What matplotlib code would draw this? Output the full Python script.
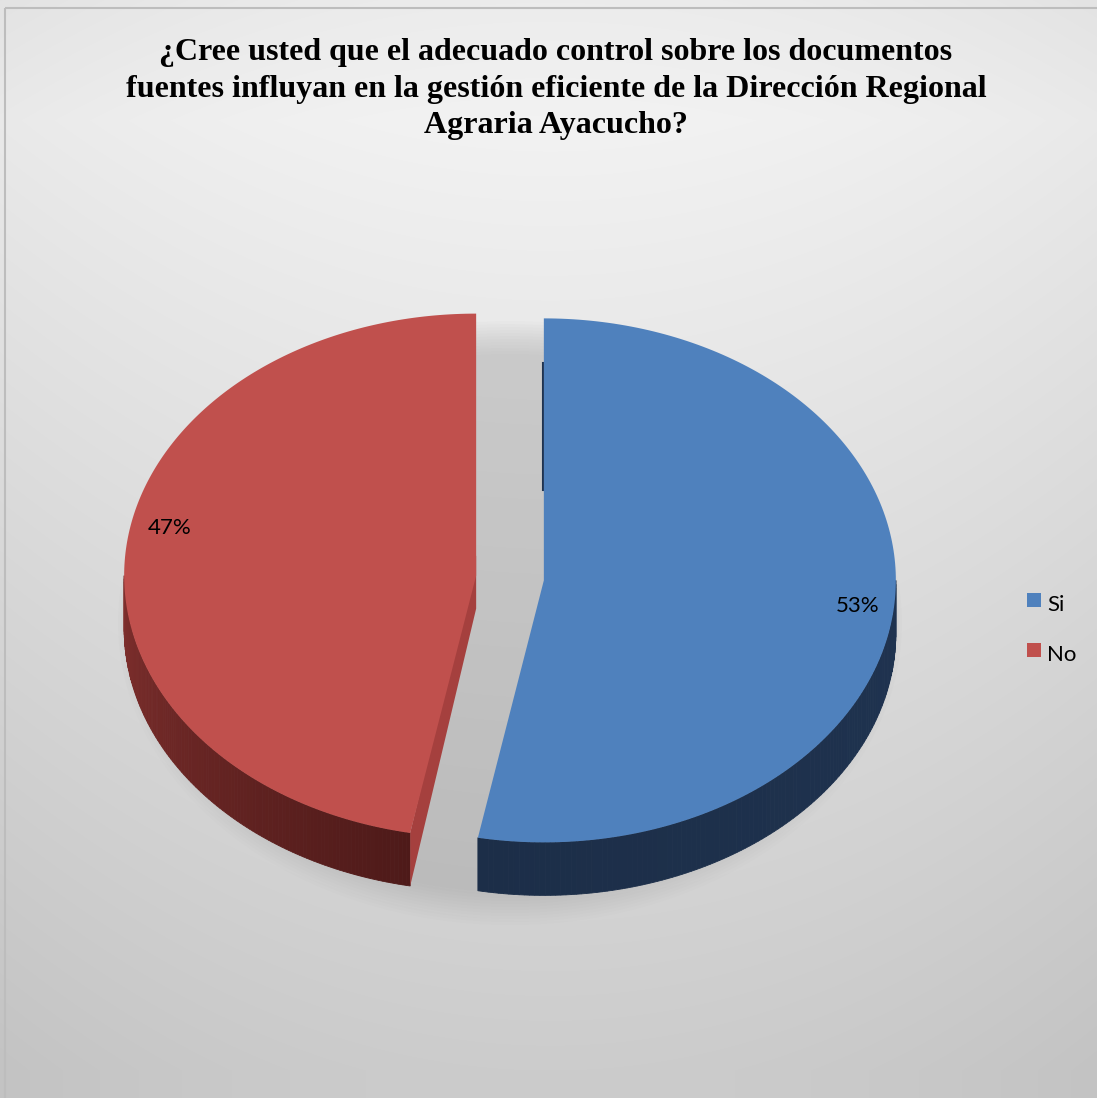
import matplotlib
matplotlib.use("Agg")
import matplotlib.pyplot as plt
import numpy as np
from matplotlib.patches import Polygon, Rectangle, Ellipse

# data
categories = ["Si", "No"]
values = [53, 47]
pct_labels = ["53%", "47%"]
top_colors = ["#4f81bd", "#c0504d"]
side_colors = ["#1f3350", "#7f2f2d"]
side_dark = ["#1c2e48", "#4e1a19"]
cut_colors = ["#1f3350", "#a5403e"]
title = ("¿Cree usted que el adecuado control sobre los documentos\n"
         "fuentes influyan en la gestión eficiente de la Dirección Regional\n"
         "Agraria Ayacucho?")

W, H = 1097, 1098
fig = plt.figure(figsize=(W / 100, H / 100), dpi=100)
ax = fig.add_axes([0, 0, 1, 1])
ax.set_xlim(0, W)
ax.set_ylim(H, 0)
ax.axis("off")

# background gradient
yy, xx = np.mgrid[0:H, 0:W]
v = 0.95 - 0.15 * np.clip((yy - 120) / 950.0, 0, 1) - 0.035 * (np.abs(xx - 550) / 550.0) ** 2
v = v - 0.025 * np.clip((120 - yy) / 120.0, 0, 1)
ax.imshow(np.dstack([v, v, v]), extent=[0, W, H, 0], zorder=0, aspect="auto")
ax.add_patch(Rectangle((5, 8), W, H, fill=False, edgecolor="#bdbdbd", lw=1.5, zorder=1))

# pie geometry (pixel space, y down)
cx0, cy0 = 510, 578
rx, ry = 352, 262
depth = 53
explode = 34


def rim(cx, cy, th, z=0):
    return cx + rx * np.sin(th), cy - ry * np.cos(th) + z


# soft shadow under the pie
for k in range(12):
    ax.add_patch(Ellipse((cx0, cy0 + 45), 2 * (rx + 40 - 3 * k), 2 * (ry + 40 - 3 * k),
                         facecolor="#808080", edgecolor="none", alpha=0.025, zorder=2))

fracs = np.array(values) / np.sum(values)
starts = np.concatenate([[0], np.cumsum(fracs)[:-1]]) * 2 * np.pi
ends = np.cumsum(fracs) * 2 * np.pi

for i, cat in enumerate(categories):
    a0, a1 = starts[i], ends[i]
    mid = (a0 + a1) / 2
    cx = cx0 + explode * np.sin(mid)
    cy = cy0 - explode * np.cos(mid) * ry / rx

    # outer side, visible part of the rim (front half)
    s0, s1 = max(a0, np.pi / 2), min(a1, 3 * np.pi / 2)
    if s1 > s0:
        th = np.linspace(s0, s1, 120)
        c0 = np.array(matplotlib.colors.to_rgb(side_colors[i]))
        c1 = np.array(matplotlib.colors.to_rgb(side_dark[i]))
        for j in range(len(th) - 1):
            t = (s1 - th[j]) / (s1 - s0) if i == 1 else (th[j] - s0) / (s1 - s0)
            col = c0 * (1 - t) + c1 * t
            p = [rim(cx, cy, th[j]), rim(cx, cy, th[j + 1]),
                 rim(cx, cy, th[j + 1], depth), rim(cx, cy, th[j], depth)]
            ax.add_patch(Polygon(p, closed=True, facecolor=col, edgecolor=col, lw=0.6, zorder=3))

    # cut face at start angle (visible for slice on the left)
    if i == 1:
        p = [(cx, cy - 20), rim(cx, cy, a0), rim(cx, cy, a0, depth), (cx, cy + depth - 20)]
        ax.add_patch(Polygon(p, closed=True, facecolor=cut_colors[i], edgecolor="none", zorder=3))
    else:
        ax.plot([cx - 1, cx - 1], [cy - ry + 45, cy - 90], color=side_colors[i], lw=1.5, zorder=3)

    # top face
    th = np.linspace(a0, a1, 200)
    pts = [(cx, cy)] + [rim(cx, cy, t) for t in th]
    ax.add_patch(Polygon(pts, closed=True, facecolor=top_colors[i], edgecolor="none", zorder=4))

# percentage labels
ax.text(858, 606, pct_labels[0], fontsize=16, family="Lato", ha="center", va="center", zorder=5)
ax.text(170, 528, pct_labels[1], fontsize=16, family="Lato", ha="center", va="center", zorder=5)

# legend
for i, cat in enumerate(categories):
    y = 600 + 50 * i
    ax.add_patch(Rectangle((1027, y - 7), 14, 14, facecolor=top_colors[i], edgecolor="none", zorder=5))
    ax.text(1047, y + 5, cat, fontsize=16, family="Lato", ha="left", va="center", zorder=5)

ax.text(556, 89, title, fontsize=23, family="Liberation Serif", fontweight="bold",
        ha="center", va="center", linespacing=1.33, zorder=5)

fig.savefig("out.png", dpi=100)
